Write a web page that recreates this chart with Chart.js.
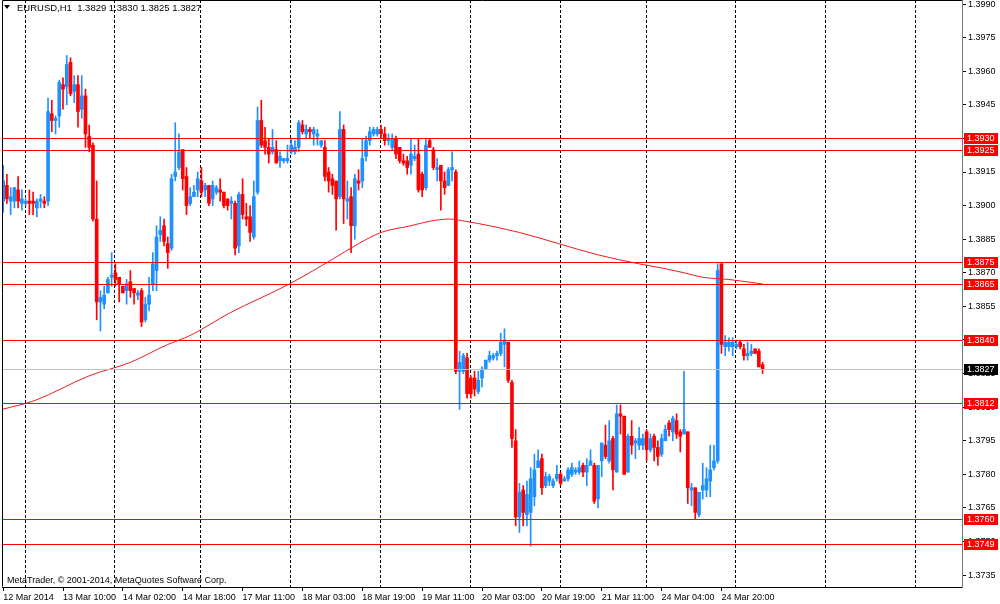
<!DOCTYPE html>
<html lang="en">
<head>
    <meta charset="UTF-8">
    <title>EURUSD,H1</title>
    <script src="https://cdn.jsdelivr.net/npm/chart.js"></script>
    <style>
        html, body { margin: 0; padding: 0; background: #fff; }
        canvas { display: block; }
    </style>
</head>
<body>
    <canvas id="mtChart" width="1000" height="604"></canvas>

    <script>
        // hourly candles, index 0 = 12 Mar 18:00
        const opens = [
            1.3902,1.3909,1.3902,1.3902,1.3907,1.3901,1.3901,1.3902,1.3902,1.3899,1.3902,1.3902,
            1.3902,1.3941,1.3938,1.3940,1.3954,1.3953,1.3964,1.3951,1.3954,1.3943,1.3949,1.3931,
            1.3927,1.3894,1.3857,1.3856,1.3861,1.3868,1.3870,1.3868,1.3864,1.3862,1.3866,1.3863,
            1.3860,1.3862,1.3849,1.3856,1.3865,1.3871,1.3887,1.3891,1.3883,1.3881,1.3913,1.3917,
            1.3925,1.3913,1.3901,1.3904,1.3907,1.3911,1.3907,1.3909,1.3903,1.3906,1.3907,1.3906,
            1.3903,1.3901,1.3901,1.3882,1.3905,1.3895,1.3895,1.3886,1.3906,1.3938,1.3929,1.3926,
            1.3924,1.3925,1.3920,1.3920,1.3920,1.3924,1.3924,1.3926,1.3936,1.3932,1.3934,1.3932,
            1.3931,1.3927,1.3926,1.3915,1.3912,1.3911,1.3904,1.3934,1.3902,1.3904,1.3891,1.3911,
            1.3911,1.3922,1.3929,1.3932,1.3932,1.3934,1.3932,1.3929,1.3926,1.3930,1.3926,1.3920,
            1.3920,1.3918,1.3921,1.3923,1.3914,1.3908,1.3929,1.3925,1.3916,1.3918,1.3911,1.3909,
            1.3916,1.3915,1.3826,1.3826,1.3832,1.3823,1.3823,1.3817,1.3823,1.3827,1.3831,1.3832,
            1.3833,1.3834,1.3838,1.3839,1.3821,1.3795,1.3761,1.3773,1.3762,1.3763,1.3770,1.3783,
            1.3787,1.3775,1.3777,1.3775,1.3778,1.3780,1.3777,1.3778,1.3780,1.3781,1.3781,1.3784,
            1.3781,1.3784,1.3784,1.3769,1.3786,1.3793,1.3786,1.3796,1.3781,1.3807,1.3806,1.3781,
            1.3797,1.3794,1.3793,1.3793,1.3799,1.3791,1.3797,1.3792,1.3789,1.3795,1.3803,1.3799,
            1.3804,1.3799,1.3798,1.3799,1.3773,1.3774,1.3762,1.3773,1.3773,1.3777,1.3783,1.3786,
            1.3874,1.3837,1.3837,1.3837,1.3837,1.3839,1.3836,1.3833,1.3834,1.3836,1.3835,1.3829
        ];
        const highs = [
            1.3918,1.3914,1.3908,1.3908,1.3913,1.3907,1.3903,1.3907,1.3906,1.3903,1.3905,1.3904,
            1.3948,1.3947,1.3940,1.3956,1.3957,1.3967,1.3966,1.3958,1.3958,1.3958,1.3952,1.3936,
            1.3928,1.3911,1.3862,1.3864,1.3868,1.3879,1.3874,1.3868,1.3864,1.3867,1.3871,1.3863,
            1.3862,1.3863,1.3859,1.3868,1.3879,1.3891,1.3895,1.3894,1.3886,1.3914,1.3937,1.3932,
            1.3925,1.3917,1.3908,1.3909,1.3915,1.3917,1.3910,1.3909,1.3911,1.3909,1.3912,1.3906,
            1.3903,1.3904,1.3902,1.3906,1.3912,1.3901,1.3900,1.3911,1.3944,1.3947,1.3935,1.3930,
            1.3934,1.3929,1.3924,1.3921,1.3927,1.3930,1.3929,1.3938,1.3938,1.3936,1.3935,1.3935,
            1.3934,1.3929,1.3929,1.3917,1.3914,1.3911,1.3942,1.3936,1.3911,1.3908,1.3914,1.3916,
            1.3930,1.3931,1.3935,1.3935,1.3935,1.3936,1.3935,1.3932,1.3932,1.3931,1.3926,1.3923,
            1.3922,1.3930,1.3927,1.3930,1.3915,1.3930,1.3930,1.3926,1.3921,1.3918,1.3915,1.3917,
            1.3924,1.3916,1.3835,1.3834,1.3834,1.3824,1.3826,1.3826,1.3828,1.3831,1.3835,1.3834,
            1.3835,1.3843,1.3845,1.3839,1.3822,1.3800,1.3776,1.3775,1.3777,1.3783,1.3789,1.3791,
            1.3789,1.3781,1.3780,1.3778,1.3784,1.3781,1.3779,1.3783,1.3785,1.3783,1.3786,1.3785,
            1.3787,1.3791,1.3785,1.3784,1.3794,1.3802,1.3804,1.3797,1.3811,1.3811,1.3806,1.3798,
            1.3804,1.3796,1.3801,1.3798,1.3800,1.3798,1.3798,1.3795,1.3798,1.3802,1.3804,1.3806,
            1.3807,1.3800,1.3826,1.3799,1.3776,1.3774,1.3772,1.3785,1.3783,1.3793,1.3793,1.3874,
            1.3874,1.3842,1.3841,1.3841,1.3840,1.3840,1.3838,1.3839,1.3838,1.3836,1.3836,1.3830
        ];
        const lows = [
            1.3897,1.3901,1.3896,1.3899,1.3899,1.3898,1.3900,1.3896,1.3896,1.3895,1.3899,1.3899,
            1.3900,1.3933,1.3932,1.3935,1.3943,1.3945,1.3949,1.3946,1.3935,1.3939,1.3926,1.3924,
            1.3893,1.3849,1.3844,1.3854,1.3861,1.3864,1.3864,1.3857,1.3861,1.3856,1.3859,1.3856,
            1.3858,1.3846,1.3848,1.3853,1.3862,1.3862,1.3884,1.3882,1.3872,1.3880,1.3911,1.3916,
            1.3907,1.3896,1.3900,1.3904,1.3904,1.3904,1.3904,1.3900,1.3900,1.3905,1.3902,1.3899,
            1.3898,1.3894,1.3878,1.3879,1.3894,1.3891,1.3884,1.3885,1.3905,1.3926,1.3923,1.3919,
            1.3923,1.3919,1.3917,1.3919,1.3919,1.3923,1.3923,1.3924,1.3932,1.3930,1.3930,1.3927,
            1.3927,1.3926,1.3911,1.3906,1.3905,1.3889,1.3903,1.3892,1.3894,1.3879,1.3885,1.3907,
            1.3908,1.3920,1.3927,1.3931,1.3931,1.3930,1.3927,1.3927,1.3925,1.3921,1.3919,1.3918,
            1.3914,1.3914,1.3920,1.3906,1.3904,1.3907,1.3926,1.3916,1.3911,1.3898,1.3905,1.3909,
            1.3911,1.3825,1.3809,1.3825,1.3814,1.3814,1.3815,1.3816,1.3819,1.3827,1.3830,1.3831,
            1.3831,1.3833,1.3828,1.3821,1.3792,1.3757,1.3754,1.3757,1.3757,1.3748,1.3766,1.3783,
            1.3771,1.3774,1.3775,1.3774,1.3777,1.3775,1.3777,1.3777,1.3779,1.3780,1.3780,1.3779,
            1.3775,1.3784,1.3767,1.3765,1.3779,1.3787,1.3785,1.3773,1.3781,1.3798,1.3780,1.3781,
            1.3789,1.3787,1.3791,1.3791,1.3786,1.3790,1.3786,1.3784,1.3788,1.3795,1.3797,1.3795,
            1.3796,1.3790,1.3798,1.3767,1.3766,1.3760,1.3761,1.3769,1.3770,1.3770,1.3782,1.3785,
            1.3834,1.3833,1.3835,1.3833,1.3836,1.3836,1.3831,1.3831,1.3833,1.3834,1.3828,1.3825
        ];
        const closes = [
            1.3911,1.3903,1.3904,1.3908,1.3902,1.3903,1.3902,1.3901,1.3901,1.3902,1.3903,1.3901,
            1.3942,1.3938,1.3939,1.3955,1.3952,1.3963,1.3950,1.3954,1.3942,1.3949,1.3932,1.3926,
            1.3894,1.3857,1.3859,1.3860,1.3867,1.3869,1.3867,1.3865,1.3861,1.3865,1.3862,1.3861,
            1.3861,1.3848,1.3856,1.3860,1.3874,1.3886,1.3889,1.3884,1.3879,1.3912,1.3915,1.3924,
            1.3912,1.3900,1.3904,1.3906,1.3912,1.3906,1.3909,1.3901,1.3909,1.3908,1.3906,1.3900,
            1.3900,1.3902,1.3881,1.3905,1.3896,1.3894,1.3888,1.3904,1.3938,1.3927,1.3926,1.3923,
            1.3926,1.3919,1.3922,1.3921,1.3921,1.3927,1.3926,1.3937,1.3933,1.3934,1.3933,1.3934,
            1.3932,1.3929,1.3913,1.3911,1.3909,1.3903,1.3934,1.3903,1.3903,1.3891,1.3912,1.3910,
            1.3921,1.3929,1.3933,1.3934,1.3934,1.3932,1.3929,1.3930,1.3930,1.3923,1.3920,1.3919,
            1.3917,1.3923,1.3922,1.3907,1.3907,1.3927,1.3926,1.3917,1.3917,1.3911,1.3908,1.3916,
            1.3917,1.3826,1.3830,1.3833,1.3816,1.3816,1.3818,1.3822,1.3827,1.3831,1.3833,1.3833,
            1.3834,1.3839,1.3840,1.3822,1.3796,1.3761,1.3772,1.3763,1.3771,1.3778,1.3782,1.3786,
            1.3774,1.3779,1.3779,1.3777,1.3780,1.3776,1.3778,1.3782,1.3783,1.3782,1.3783,1.3781,
            1.3784,1.3786,1.3768,1.3784,1.3794,1.3788,1.3795,1.3782,1.3807,1.3806,1.3780,1.3797,
            1.3793,1.3795,1.3796,1.3796,1.3791,1.3796,1.3792,1.3788,1.3796,1.3800,1.3800,1.3805,
            1.3798,1.3797,1.3800,1.3774,1.3774,1.3763,1.3772,1.3775,1.3778,1.3782,1.3786,1.3871,
            1.3838,1.3839,1.3839,1.3839,1.3838,1.3837,1.3833,1.3834,1.3835,1.3834,1.3828,1.3827
        ];

        // moving average, read at a few bar positions
        const maIdx = [-0.3, 8.5, 23, 34, 44, 50, 60.5, 76.5, 88, 95, 101, 109, 114, 119.5, 123.5, 127, 138, 148.5, 159, 170, 176.5, 182, 187, 194, 203];
        const maVal = [1.3809, 1.3813, 1.3824, 1.3830, 1.3838, 1.3842, 1.3852, 1.3865, 1.3876, 1.3883, 1.3888, 1.3891, 1.3893, 1.3894, 1.3893, 1.3892, 1.3888, 1.3883, 1.3878, 1.3874, 1.3872, 1.3870, 1.3868, 1.3867, 1.3865];

        // horizontal levels and current bid
        const levels = [1.3930, 1.3925, 1.3875, 1.3865, 1.3840, 1.3812, 1.3760, 1.3749];
        const bid = 1.3827;

        // axis labels
        const timeIdx = [0, 16, 32, 48, 64, 80, 96, 112, 128, 144, 160, 176, 192];
        const timeLabels = ['12 Mar 2014', '13 Mar 10:00', '14 Mar 02:00', '14 Mar 18:00', '17 Mar 11:00', '18 Mar 03:00',
                            '18 Mar 19:00', '19 Mar 11:00', '20 Mar 03:00', '20 Mar 19:00', '21 Mar 11:00', '24 Mar 04:00', '24 Mar 20:00'];
        const priceTicks = [1.3735, 1.3750, 1.3765, 1.3780, 1.3795, 1.3810, 1.3825, 1.3840, 1.3855,
                            1.3870, 1.3885, 1.3900, 1.3915, 1.3930, 1.3945, 1.3960, 1.3975, 1.3990];
        // first bar of each day (vertical grid)
        const dayStarts = [6, 30, 53, 77, 101, 125, 149, 172, 196, 220, 244];

        const BULL = '#1e90ff';
        const BEAR = '#ff0000';
        const FONT = "'Liberation Sans', Arial, sans-serif";

        const candleColor = (c) => closes[c.dataIndex] >= opens[c.dataIndex] ? BULL : BEAR;
        const last = opens.length - 1;

        // lines, labels and texts drawn on top of the chart
        const mtPlugin = {
            id: 'mt4',
            beforeDatasetsDraw(chart) {
                const { ctx, chartArea: a, scales: { x } } = chart;
                ctx.save();
                ctx.strokeStyle = '#000';
                ctx.lineWidth = 1;
                ctx.setLineDash([3, 2]);
                dayStarts.forEach(d => {
                    const px = Math.round(x.getPixelForValue(d)) - 0.5;
                    ctx.beginPath();
                    ctx.moveTo(px, a.top);
                    ctx.lineTo(px, a.bottom);
                    ctx.stroke();
                });
                ctx.restore();
            },
            afterDatasetsDraw(chart) {
                const { ctx, chartArea: a, scales: { y } } = chart;
                ctx.save();
                ctx.lineWidth = 1;
                ctx.strokeStyle = '#c0c0c0';
                let py = Math.round(y.getPixelForValue(bid)) + 0.5;
                ctx.beginPath(); ctx.moveTo(a.left, py); ctx.lineTo(a.right, py); ctx.stroke();
                ctx.strokeStyle = '#ff0000';
                levels.forEach(l => {
                    py = Math.round(y.getPixelForValue(l)) + 0.5;
                    ctx.beginPath(); ctx.moveTo(a.left, py); ctx.lineTo(a.right, py); ctx.stroke();
                });
                ctx.restore();
            },
            afterDraw(chart) {
                const { ctx, chartArea: a, scales: { y } } = chart;
                ctx.save();
                // chart frame (right side is the price axis)
                ctx.strokeStyle = '#000';
                ctx.lineWidth = 1;
                ctx.beginPath();
                ctx.moveTo(a.right, a.top + 0.5);
                ctx.lineTo(a.left + 0.5, a.top + 0.5);
                ctx.lineTo(a.left + 0.5, a.bottom - 0.5);
                ctx.stroke();

                // price boxes on the right scale
                ctx.font = '9px ' + FONT;
                ctx.textBaseline = 'middle';
                ctx.textAlign = 'left';
                const box = (v, bg) => {
                    const py = Math.round(y.getPixelForValue(v));
                    ctx.fillStyle = bg;
                    ctx.fillRect(a.right + 2, py - 5, 34, 11);
                    ctx.fillStyle = '#fff';
                    ctx.fillText(v.toFixed(4), a.right + 5, py + 0.5);
                };
                levels.forEach(l => box(l, '#ff0000'));
                box(bid, '#000');

                // header and copyright
                ctx.fillStyle = '#000';
                ctx.beginPath();
                ctx.moveTo(4, 5); ctx.lineTo(10, 5); ctx.lineTo(7, 9); ctx.closePath();
                ctx.fill();
                ctx.font = '9.5px ' + FONT;
                const head = 'EURUSD,H1  ' + [opens[last], highs[last], lows[last], closes[last]].map(v => v.toFixed(4)).join(' ');
                ctx.fillText(head, 17, 8);
                ctx.font = '9px ' + FONT;
                ctx.fillText('MetaTrader, \u00a9 2001-2014, MetaQuotes Software Corp.', 7, 581);
                ctx.restore();
            }
        };

        Chart.defaults.font.family = FONT;
        Chart.defaults.font.size = 9;
        Chart.defaults.color = '#000';

        const ctx = document.getElementById('mtChart').getContext('2d');
        const mtChart = new Chart(ctx, {
            type: 'bar',
            data: {
                datasets: [
                    {
                        // moving average
                        type: 'line',
                        data: maIdx.map((v, k) => ({ x: v, y: maVal[k] })),
                        borderColor: '#ee1c1c',
                        borderWidth: 1,
                        pointRadius: 0,
                        cubicInterpolationMode: 'monotone',
                        order: 0
                    },
                    {
                        // bodies
                        data: opens.map((o, i) => ({ x: i, y: [o, closes[i]] })),
                        backgroundColor: candleColor,
                        barThickness: 3,
                        minBarLength: 1,
                        grouped: false,
                        order: 1
                    },
                    {
                        // wicks
                        data: lows.map((l, i) => ({ x: i, y: [l, highs[i]] })),
                        backgroundColor: candleColor,
                        barThickness: 1,
                        grouped: false,
                        order: 2
                    }
                ]
            },
            options: {
                responsive: false,
                animation: false,
                layout: { padding: { left: 2, top: 0, right: 0, bottom: 0 } },
                plugins: {
                    legend: { display: false },
                    tooltip: { enabled: false }
                },
                scales: {
                    x: {
                        type: 'linear',
                        min: -0.31,
                        max: 256.3,
                        offset: false,
                        afterFit: (s) => { s.height = 17; s.paddingLeft = 0; s.paddingRight = 0; },
                        afterBuildTicks: (s) => { s.ticks = timeIdx.map(v => ({ value: v })); },
                        ticks: {
                            autoSkip: false,
                            maxRotation: 0,
                            align: 'start',
                            padding: 1,
                            callback: (v) => timeLabels[timeIdx.indexOf(v)]
                        },
                        grid: { drawOnChartArea: false, drawTicks: true, tickLength: 4, color: '#000', offset: false },
                        border: { display: true, color: '#000' }
                    },
                    y: {
                        position: 'right',
                        min: 1.37297,
                        max: 1.39918,
                        afterFit: (s) => { s.width = 38; s.paddingTop = 0; s.paddingBottom = 0; },
                        afterBuildTicks: (s) => { s.ticks = priceTicks.map(v => ({ value: v })); },
                        ticks: {
                            padding: 2,
                            callback: (v) => v.toFixed(4)
                        },
                        grid: { drawOnChartArea: false, drawTicks: true, tickLength: 4, color: '#000' },
                        border: { display: true, color: '#777' }
                    }
                }
            },
            plugins: [mtPlugin]
        });
    </script>
</body>
</html>
